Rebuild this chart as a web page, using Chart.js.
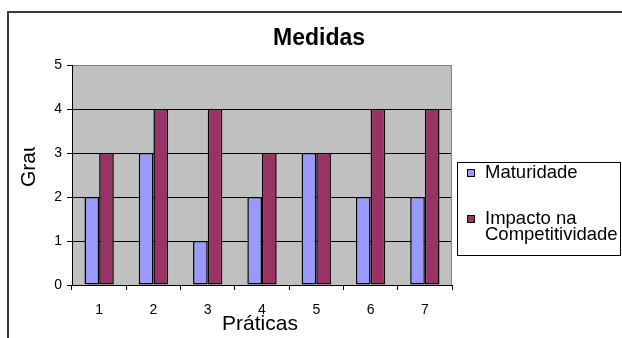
<!DOCTYPE html>
<html lang="pt">
<head>
<meta charset="utf-8">
<title>Medidas</title>
<script src="https://cdn.jsdelivr.net/npm/chart.js@4/dist/chart.umd.min.js"></script>
<style>
  html, body { margin: 0; padding: 0; background: #fff; }
  #wrap { width: 622px; height: 338px; }
  canvas { display: block; }
</style>
</head>
<body>
<div id="wrap"><canvas id="chart" width="622" height="338"></canvas></div>
<script>
// Práticas avaliadas (eixo X)
const categories = ['1', '2', '3', '4', '5', '6', '7'];
// Grau atribuído a cada prática
const maturidade = [2, 3, 1, 2, 3, 2, 2];
const impactoCompetitividade = [3, 4, 4, 3, 3, 4, 4];
// Nomes das séries e textos do gráfico
const seriesNames = ['Maturidade', 'Impacto na Competitividade'];
const chartTitle = 'Medidas';
const xTitle = 'Práticas';
const yTitle = 'Grau';
// Escala do eixo Y
const yMin = 0;
const yMax = 5;
const yStep = 1;

const FONT = "'Liberation Sans', Arial, sans-serif";

// Moldura, fundo da área de plotagem, títulos e legenda
const decorations = {
  id: 'decorations',
  beforeDraw(chart) {
    const { ctx, chartArea: a } = chart;
    ctx.save();
    ctx.fillStyle = '#ffffff';
    ctx.fillRect(0, 0, chart.width, chart.height);
    ctx.fillStyle = '#c0c0c0';
    ctx.fillRect(a.left, a.top, a.right - a.left, a.bottom - a.top);
    ctx.restore();
  },
  afterDatasetsDraw(chart) {
    const { ctx, chartArea: a } = chart;
    ctx.save();
    // borda direita da área de plotagem
    ctx.strokeStyle = '#808080';
    ctx.lineWidth = 1;
    ctx.beginPath();
    ctx.moveTo(a.right - 0.5, a.top);
    ctx.lineTo(a.right - 0.5, a.bottom);
    ctx.stroke();
    ctx.restore();
  },
  afterDraw(chart) {
    const { ctx, chartArea: a } = chart;
    ctx.save();

    // moldura externa
    ctx.strokeStyle = '#3a3a3a';
    ctx.lineWidth = 2;
    ctx.strokeRect(8, 12, 700, 400);

    // título
    ctx.fillStyle = '#000';
    ctx.font = 'bold 23px ' + FONT;
    ctx.textAlign = 'center';
    ctx.textBaseline = 'middle';
    ctx.fillText(chartTitle, 319, 39);

    // título do eixo X
    ctx.font = '21px ' + FONT;
    ctx.textBaseline = 'alphabetic';
    ctx.fillText(xTitle, (a.left + a.right) / 2 - 2, 330);

    // título do eixo Y (recortado na parte superior)
    ctx.save();
    ctx.beginPath();
    ctx.rect(0, 147, 60, 150);
    ctx.clip();
    ctx.translate(35, 187);
    ctx.rotate(-Math.PI / 2);
    ctx.textAlign = 'left';
    ctx.fillText(yTitle, 0, 0);
    ctx.restore();

    // legenda
    const box = { left: 457, top: 162.5, right: 620, bottom: 255.5 };
    ctx.fillStyle = '#fff';
    ctx.fillRect(box.left, box.top, box.right - box.left, box.bottom - box.top);
    ctx.strokeStyle = '#000';
    ctx.lineWidth = 1;
    ctx.strokeRect(box.left + 0.5, box.top, box.right - box.left, box.bottom - box.top);

    ctx.font = '18.5px ' + FONT;
    ctx.textAlign = 'left';
    ctx.textBaseline = 'alphabetic';
    const textX = 485;
    const maxW = box.right - textX + 2;
    const firstBaseline = [178, 224];
    chart.data.datasets.forEach((ds, i) => {
      // quebra de linha do rótulo
      const words = ds.label.split(' ');
      const lines = [];
      let cur = '';
      words.forEach(w => {
        const test = cur ? cur + ' ' + w : w;
        if (ctx.measureText(test).width > maxW && cur) {
          lines.push(cur);
          cur = w;
        } else {
          cur = test;
        }
      });
      lines.push(cur);

      const base = firstBaseline[i];
      // marcador
      ctx.fillStyle = ds.backgroundColor;
      ctx.fillRect(467, base - 9, 8, 8);
      ctx.strokeStyle = '#000';
      ctx.strokeRect(467.5, base - 8.5, 7, 7);
      // texto
      ctx.fillStyle = '#000';
      lines.forEach((ln, k) => ctx.fillText(ln, textX, base + k * 16));
    });

    ctx.restore();
  }
};

new Chart(document.getElementById('chart'), {
  type: 'bar',
  data: {
    labels: categories,
    datasets: [
      {
        label: seriesNames[0],
        data: maturidade,
        backgroundColor: '#9999ff',
        borderColor: '#000',
        borderWidth: 1.5,
        borderSkipped: false,
        categoryPercentage: 0.54,
        barPercentage: 1.0
      },
      {
        label: seriesNames[1],
        data: impactoCompetitividade,
        backgroundColor: '#993366',
        borderColor: '#000',
        borderWidth: 1.5,
        borderSkipped: false,
        categoryPercentage: 0.54,
        barPercentage: 1.0
      }
    ]
  },
  options: {
    responsive: false,
    maintainAspectRatio: false,
    animation: false,
    devicePixelRatio: 1,
    layout: { padding: { left: 0, right: 170, top: 65, bottom: 0 } },
    plugins: {
      legend: { display: false },
      title: { display: false },
      tooltip: { enabled: false }
    },
    scales: {
      x: {
        grid: {
          offset: true,
          drawOnChartArea: false,
          drawTicks: true,
          tickLength: 5,
          tickColor: '#000'
        },
        border: { color: '#000', width: 1 },
        ticks: {
          color: '#000',
          font: { family: FONT, size: 14 },
          padding: 12,
          maxRotation: 0
        },
        afterFit(scale) { scale.height = 53; }
      },
      y: {
        min: yMin,
        max: yMax,
        ticks: {
          stepSize: yStep,
          color: '#000',
          font: { family: FONT, size: 14 },
          padding: 5
        },
        grid: {
          color: ctx => (ctx.tick && ctx.tick.value === yMax ? '#808080' : '#000'),
          tickColor: '#000',
          tickLength: 5,
          lineWidth: 1
        },
        border: { color: '#000', width: 1 },
        afterFit(scale) { scale.width = 72; }
      }
    }
  },
  plugins: [decorations]
});
</script>
</body>
</html>
